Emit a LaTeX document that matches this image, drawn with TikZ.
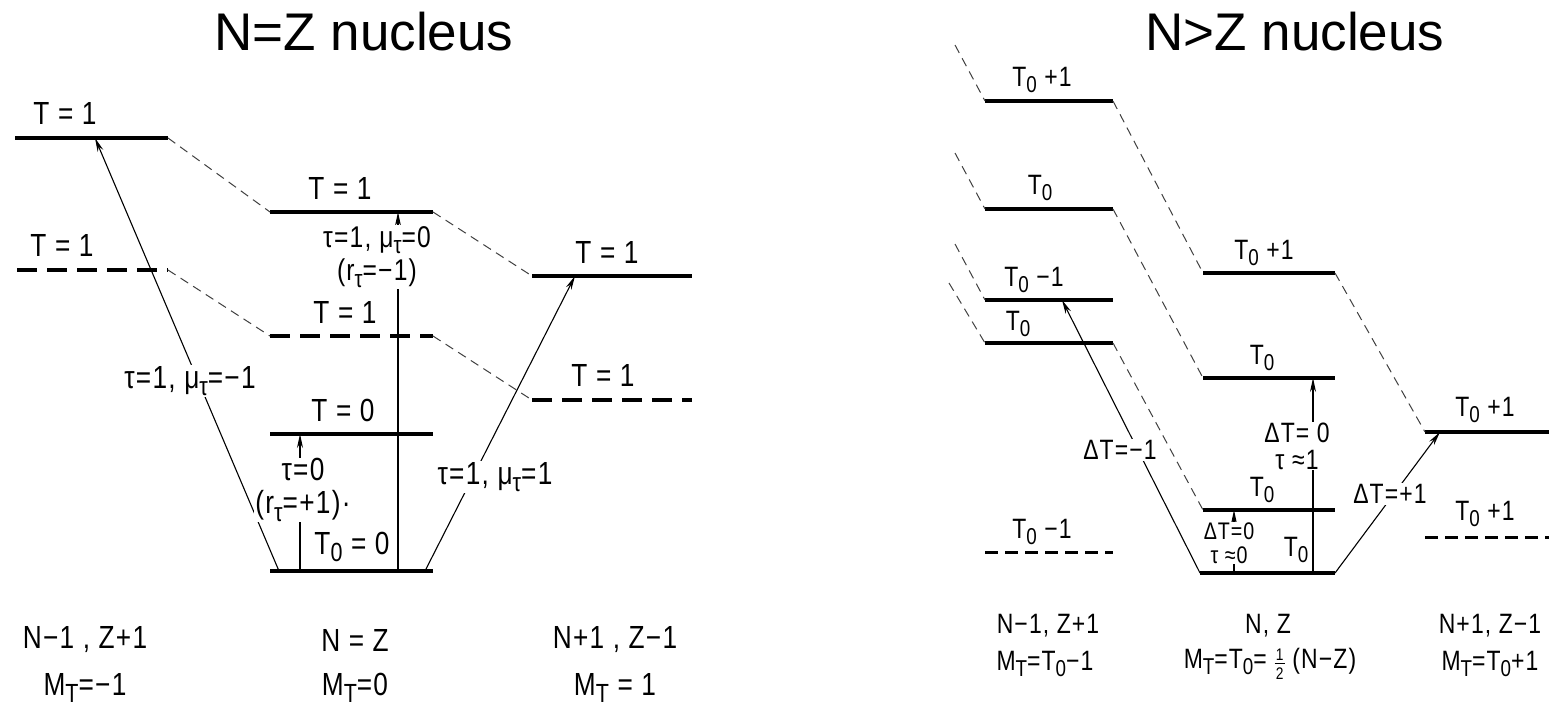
\documentclass[tikz,border=0pt]{standalone}
\usepackage{fontspec}
\setmainfont{Liberation Sans}[FakeStretch=0.82, LetterSpace=4]
\newfontfamily\headfont{Liberation Sans}
\usetikzlibrary{arrows.meta}
\newcommand\lowr[1]{\raisebox{-0.42ex}{\scalebox{0.82}{#1}}}
\newcommand\half{\raisebox{-0.75ex}{\scalebox{0.6}{\shortstack[c]{1\\[0.05em]\rule{0.6em}{0.09em}\\[0.1em]2}}}}

\begin{document}
\begin{tikzpicture}[x=1pt,y=-1pt,
    level/.style={line width=3.2pt},
    dlevel/.style={line width=3.2pt, dash pattern=on 20pt off 10pt},
    slevel/.style={line width=3pt, dash pattern=on 13pt off 7pt},
    link/.style={line width=1pt, black!75, dash pattern=on 9pt off 6pt},
    trans/.style={line width=1.1pt, -{Stealth[length=14pt,width=6pt]}},
    big/.style={font=\fontsize{32}{30}\selectfont, inner sep=1pt},
    small/.style={font=\fontsize{28}{25}\selectfont, inner sep=1pt},
    tiny/.style={font=\fontsize{24}{24}\selectfont, inner sep=1pt},
    cut/.style={fill=white, align=center}]
  \useasboundingbox[fill=white] (0,0) rectangle (1549,708);

  % titles
  \node[font=\headfont\fontsize{53}{55}\selectfont] (tl) at (364,32) {N=Z nucleus};
  \node[font=\headfont\fontsize{53}{55}\selectfont] (tr) at (1295,32) {N>Z nucleus};

  % level end points: name / left / right / height
  \foreach \p/\xa/\xb/\y in {a1/15/168/138, a2/17/168/270,
      b1/270/433/212, b2/270/433/336, b3/270/433/434, b0/270/433/571,
      c1/532/692/276, c2/532/692/400,
      d1/985/1113/101, d2/985/1113/209, d3/985/1113/300, d4/985/1113/343,
      d5/985/1113/552, e1/1203/1335/273, e2/1203/1335/378, e3/1203/1335/510,
      e0/1200/1335/573, f1/1425/1549/432, f2/1425/1549/537}
    {\coordinate (\p l) at (\xa,\y); \coordinate (\p r) at (\xb,\y);}

  % N=Z levels
  \foreach \p/\s in {a1/level, a2/dlevel, b1/level, b2/dlevel, b3/level,
      b0/level, c1/level, c2/dlevel}
    \draw[\s] (\p l) -- (\p r);
  \draw[link] (a1r) -- (b1l);
  \draw[link] (b1r) -- (c1l);
  \draw[link] (a2r) -- (b2l);
  \draw[link] (b2r) -- (c2l);

  % N=Z transitions
  \coordinate (g1) at (279,571); \coordinate (t1) at (95,138);
  \coordinate (g2) at (300,571); \coordinate (t2) at (300,434);
  \coordinate (g3) at (398,571); \coordinate (t3) at (398,212);
  \coordinate (g4) at (425,571); \coordinate (t4) at (575,276);
  \draw[trans] (g1) -- (t1);
  \draw[trans] (g2) -- (t2);
  \draw[trans] (g3) -- (t3);
  \draw[trans] (g4) -- (t4);
  \node[big,cut] (m1) at (190,381) {τ=1, μ\lowr{τ}=−1};
  \node[big,cut] (m2) at (303,490) {τ=0\\[3pt](r\lowr{τ}=+1)·};
  \node[big,cut,font=\fontsize{30}{28}\selectfont] (m3) at (377,257) {τ=1, μ\lowr{τ}=0\\[4pt](r\lowr{τ}=−1)};
  \node[big,cut] (m4) at (495,477) {τ=1, μ\lowr{τ}=1};

  % N=Z labels
  \node[big] (la1) at (65,113) {T = 1};
  \node[big] (la2) at (62,245) {T = 1};
  \node[big] (lb1) at (340,188) {T = 1};
  \node[big] (lb2) at (345,312) {T = 1};
  \node[big] (lb3) at (343,410) {T = 0};
  \node[big] (lb0) at (352,547) {T\lowr{0} = 0};
  \node[big] (lc1) at (607,252) {T = 1};
  \node[big] (lc2) at (603,375) {T = 1};
  \node[big] (na) at (85,640) {N−1 , Z+1};
  \node[big] (ma) at (85,688) {M\lowr{T}=−1};
  \node[big] (nb) at (355,640) {N = Z};
  \node[big] (mb) at (355,688) {M\lowr{T}=0};
  \node[big] (nc) at (615,640) {N+1 , Z−1};
  \node[big] (mc) at (615,688) {M\lowr{T} = 1};

  % N>Z levels
  \foreach \p/\s in {d1/level, d2/level, d3/level, d4/level, d5/slevel,
      e1/level, e2/level, e3/level, e0/level, f1/level, f2/slevel}
    \draw[\s] (\p l) -- (\p r);
  \coordinate (u1) at (955,45);
  \coordinate (u2) at (955,153);
  \coordinate (u3) at (955,244);
  \coordinate (u4) at (949,283);
  \draw[link] (u1) -- (d1l);
  \draw[link] (u2) -- (d2l);
  \draw[link] (u3) -- (d3l);
  \draw[link] (u4) -- (d4l);
  \draw[link] (d1r) -- (e1l);
  \draw[link] (d2r) -- (e2l);
  \draw[link] (d4r) -- (e3l);
  \draw[link] (e1r) -- (f1l);

  % N>Z transitions
  \coordinate (h2) at (1234,573); \coordinate (s2) at (1234,510);
  \coordinate (h3) at (1313,573); \coordinate (s3) at (1313,378);
  \coordinate (s1) at (1062,300); \coordinate (s4) at (1440,432);
  \draw[trans] (e0l) -- (s1);
  \draw[trans] (h2) -- (s2);
  \draw[trans] (h3) -- (s3);
  \draw[trans] (e0r) -- (s4);
  \node[small,cut] (k1) at (1120,450) {ΔT=−1};
  \node[tiny,cut] (k2) at (1229,543) {ΔT=0\\τ ≈0};
  \node[small,cut] (k3) at (1297,446) {ΔT= 0\\[2pt]τ ≈1};
  \node[small,cut] (k4) at (1390,494) {ΔT=+1};

  % N>Z labels
  \node[small] (ld1) at (1042,80) {T\lowr{0} +1};
  \node[small] (ld2) at (1040,188) {T\lowr{0}};
  \node[small] (ld3) at (1034,280) {T\lowr{0} −1};
  \node[small] (ld4) at (1018,324) {T\lowr{0}};
  \node[small] (ld5) at (1042,532) {T\lowr{0} −1};
  \node[small] (le1) at (1264,253) {T\lowr{0} +1};
  \node[small] (le2) at (1262,358) {T\lowr{0}};
  \node[small] (le3) at (1262,490) {T\lowr{0}};
  \node[small] (le0) at (1296,550) {T\lowr{0}};
  \node[small] (lf1) at (1485,410) {T\lowr{0} +1};
  \node[small] (lf2) at (1485,514) {T\lowr{0} +1};
  \node[small] (nd) at (1048,626) {N−1, Z+1};
  \node[small] (md) at (1045,664) {M\lowr{T}=T\lowr{0}−1};
  \node[small] (ne) at (1268,626) {N, Z};
  \node[small] (me) at (1270,664) {M\lowr{T}=T\lowr{0}=\;\half\;(N−Z)};
  \node[small] (nf) at (1490,626) {N+1, Z−1};
  \node[small] (mf) at (1490,664) {M\lowr{T}=T\lowr{0}+1};
\end{tikzpicture}
\end{document}
